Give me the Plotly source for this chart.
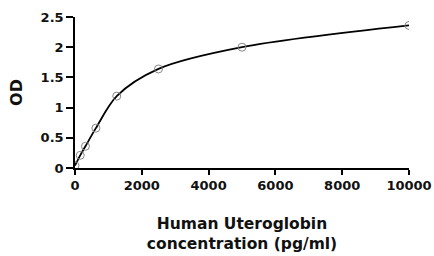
import plotly.graph_objects as go

concentration = [0, 156.25, 312.5, 625, 1250, 2500, 5000, 10000]
od_values = [0.04, 0.21, 0.36, 0.66, 1.19, 1.64, 2.0, 2.36]
x_ticks = [0, 2000, 4000, 6000, 8000, 10000]
x_tick_text = ["0", "2000", "4000", "6000", "8000", "10000"]
y_ticks = [0, 0.5, 1, 1.5, 2, 2.5]
y_tick_text = ["0", "0.5", "1", "1.5", "2", "2.5"]

font_family = "DejaVu Sans, Arial, sans-serif"

fig = go.Figure()
fig.add_trace(go.Scatter(
    x=concentration, y=od_values, mode="lines",
    line=dict(color="black", width=1.8, shape="spline", smoothing=0.9),
    hoverinfo="skip", showlegend=False,
))
fig.add_trace(go.Scatter(
    x=concentration, y=od_values, mode="markers",
    marker=dict(symbol="circle-open", size=8, color="#888888", line=dict(width=1)),
    showlegend=False,
))

fig.update_layout(
    width=434, height=256,
    margin=dict(l=75, r=25, t=17, b=88),
    paper_bgcolor="white", plot_bgcolor="white",
    font=dict(family=font_family, size=13, color="black"),
    xaxis=dict(
        range=[0, 10000], tickvals=x_ticks, ticktext=x_tick_text,
        ticks="outside", ticklen=5, tickwidth=1.5, tickcolor="black",
        showline=True, linecolor="black", linewidth=1.5,
        showgrid=False, zeroline=False, automargin=False,
        tickfont=dict(size=13, family=font_family, weight="bold", color="#111"),
        title=dict(text="Human Uteroglobin<br>concentration (pg/ml)",
                   font=dict(size=15.5, family=font_family, weight="bold", color="#111"),
                   standoff=26),
    ),
    yaxis=dict(
        range=[0, 2.5], tickvals=y_ticks, ticktext=y_tick_text,
        ticks="outside", ticklen=7, tickwidth=1.5, tickcolor="black",
        showline=True, linecolor="black", linewidth=1.5,
        showgrid=False, zeroline=False, automargin=False,
        tickfont=dict(size=13, family=font_family, weight="bold", color="#111"),
        title=dict(text="OD", font=dict(size=16, family=font_family, weight="bold", color="#111"),
                   standoff=14),
    ),
)

fig.write_html(
    "out.html",
    config={"displayModeBar": False},
    post_script="document.body.style.margin='0';document.body.style.overflow='hidden';",
)
